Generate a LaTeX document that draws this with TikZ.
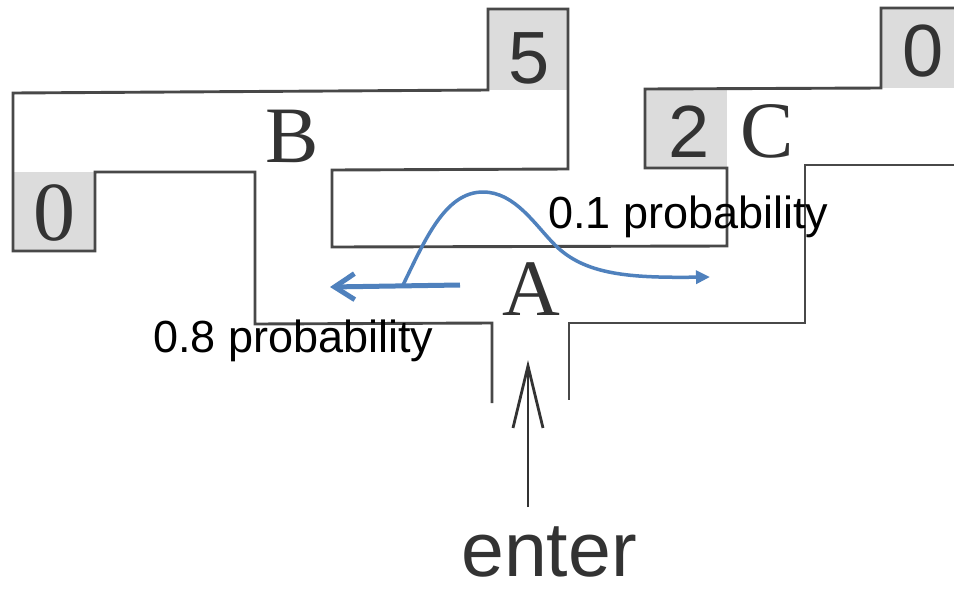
\documentclass[tikz,border=0pt]{standalone}
\usepackage{fontspec}
\setmainfont{Liberation Sans}
\newfontfamily\roomfont{Liberation Serif}
\usetikzlibrary{arrows.meta}
\definecolor{wallc}{HTML}{484848}
\definecolor{cellc}{HTML}{DCDCDC}
\definecolor{inkc}{HTML}{333333}
\definecolor{flowc}{HTML}{4F81BD}
\tikzset{
  wall/.style    ={draw=wallc, line width=2.9pt, line join=miter},
  cellbox/.style ={fill=cellc},
  num/.style     ={anchor=base, inner sep=0pt, text=inkc, font=\fontsize{74}{74}\selectfont},
  room/.style    ={anchor=base, inner sep=0pt, text=inkc, font=\roomfont\fontsize{80}{80}\selectfont},
  lbl/.style     ={anchor=base west, inner sep=0pt, text=black, font=\fontsize{45}{45}\selectfont},
  flow/.style    ={draw=flowc, line width=5pt, -{Straight Barb[length=20pt,width=26pt]}},
  flowcurve/.style={draw=flowc, line width=3.5pt, -{Triangle[length=14pt,width=13pt]}},
  entr/.style    ={draw=inkc, line width=2.8pt, -{Straight Barb[length=62pt,width=30pt]}},
}

\begin{document}
\begin{tikzpicture}[x=1pt,y=-1pt]
\useasboundingbox[fill=white] (0,0) rectangle (954,590);

% ============ reward cells ==================================================
\fill[cellbox] (13,172) rectangle (95,251);
\fill[cellbox] (488,9) rectangle (568,90);
\fill[cellbox] (645,89) rectangle (727,168);
\fill[cellbox] (881,8) rectangle (960,88);

% ============ walls =========================================================
\draw[wall] (492,403) -- (492,323) -- (255,324) -- (255,172) -- (95,172) -- (95,251)
  -- (13,251) -- (13,93) -- (488,90) -- (488,9) -- (568,9) -- (568,169) -- (332,170)
  -- (332,247) -- (727,246) -- (727,168) -- (645,168) -- (645,89) -- (881,88)
  -- (881,8) -- (960,8);
\draw[wall] (960,165) -- (805,165) -- (805,323) -- (569,323) -- (569,400);

% ============ labels ========================================================
\node[num] (r5) at (529,83) {5};
\node[num] (r2) at (689,157) {2};
\node[num] (r0) at (923,76) {0};
\node[room, font=\roomfont\fontsize{84}{84}\selectfont] (l0) at (54,240) {0};
\node[room] (B) at (292,162) {B};
\node[room] (C) at (767,157) {C};
\node[room] (A) at (531,315) {A};
\node[lbl] (p1) at (548,228) {0.1 probability};
\node[lbl] (p8) at (153,352) {0.8 probability};
\node[anchor=base, inner sep=0pt, text depth=0pt, text=inkc,
      font=\fontsize{77}{77}\selectfont] (ent) at (549,576) {enter};

% ============ moves =========================================================
\coordinate (inTail) at (528,507);
\coordinate (inHead) at (528,360);
\draw[entr] (inTail) -- (inHead);

\coordinate (fromA) at (460,285);
\coordinate (toB) at (330,287);
\coordinate (split) at (403,285);
\coordinate (toC) at (710,277);
\draw[flow] (fromA) -- (toB);
\draw[flowcurve] (split) .. controls (425,240) and (445,192) .. (483,192)
  .. controls (515,192) and (535,225) .. (555,245)
  .. controls (585,275) and (630,278) .. (toC);

\end{tikzpicture}
\end{document}
